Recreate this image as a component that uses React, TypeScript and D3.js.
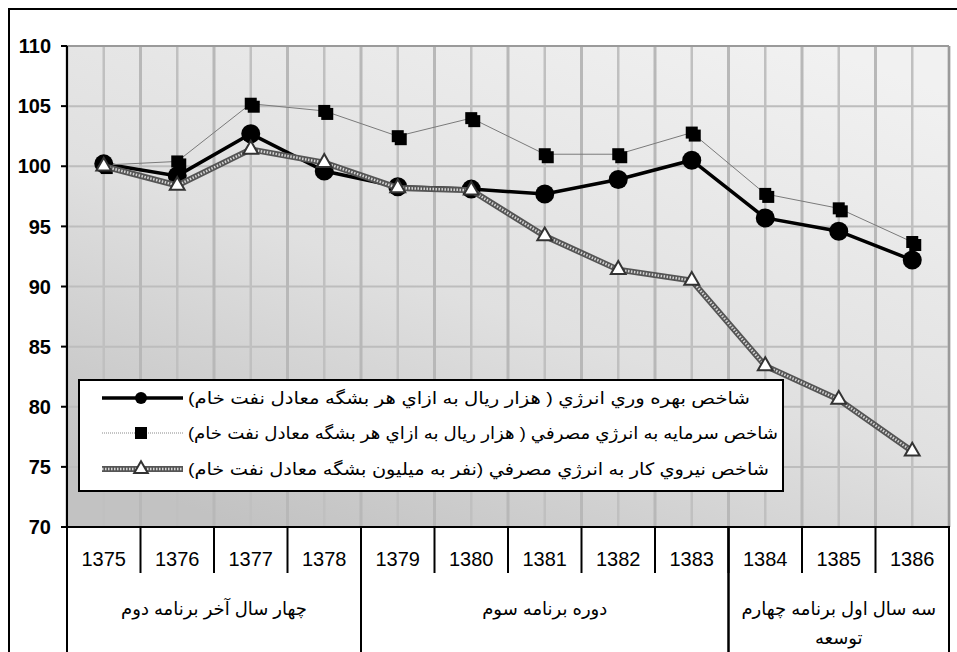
import * as d3 from 'd3'

const YEARS = ['1375', '1376', '1377', '1378', '1379', '1380', '1381', '1382', '1383', '1384', '1385', '1386']
const ENERGY_PRODUCTIVITY = [100.2, 99.2, 102.7, 99.6, 98.3, 98.1, 97.7, 98.9, 100.5, 95.7, 94.6, 92.2]
const CAPITAL_PER_ENERGY = [100.1, 100.4, 105.2, 104.6, 102.5, 104.0, 101.0, 101.0, 102.8, 97.7, 96.5, 93.7]
const LABOR_PER_ENERGY = [100.0, 98.4, 101.4, 100.3, 98.2, 98.0, 94.2, 91.4, 90.5, 83.4, 80.6, 76.3]
const Y_TICKS = [70, 75, 80, 85, 90, 95, 100, 105, 110]
const SERIES_NAMES = [
  'شاخص بهره وري انرژي ( هزار ريال به ازاي هر بشگه معادل نفت خام)',
  'شاخص سرمايه به انرژي مصرفي ( هزار ريال به ازاي هر بشگه معادل نفت خام)',
  'شاخص نيروي كار به انرژي مصرفي (نفر به ميليون بشگه معادل نفت خام)',
]
const PLAN_LABELS = [['چهار سال آخر برنامه دوم'], ['دوره برنامه سوم'], ['سه سال اول برنامه چهارم', 'توسعه']]
const PLAN_YEARS = [
  ['1375', '1378'],
  ['1379', '1383'],
  ['1384', '1386'],
]

const W = 957
const H = 652
const PLOT = { left: 67, right: 949, top: 46, bottom: 527 }
const FONT = '"Liberation Sans", Arial, "DejaVu Sans", sans-serif'
// legend box and the measured width of each entry's text in the original
const LEG = { x: 79, y: 380, w: 704, h: 111, rows: [398, 433, 469], textW: [562, 590, 581] }

const x = d3.scaleBand<string>().domain(YEARS).range([PLOT.left, PLOT.right])
const y = d3.scaleLinear().domain([70, 110]).range([PLOT.bottom, PLOT.top])
const bw = x.bandwidth()
const cx = (yr: string) => (x(yr) ?? 0) + bw / 2

const triangle = d3.symbol().type(d3.symbolTriangle).size(95)()
const triangleSmall = d3.symbol().type(d3.symbolTriangle).size(80)()

function Square({ px, py, s = 12 }: { px: number; py: number; s?: number }) {
  return (
    <g>
      <rect x={px - s / 2 + 3} y={py - s / 2 + 3} width={s} height={s} fill="#000" />
      <rect x={px - s / 2} y={py - s / 2} width={s} height={s} fill="#000" />
    </g>
  )
}

function HatchLine({ d }: { d: string }) {
  return (
    <g fill="none">
      <path d={d} stroke="#555" strokeWidth={6} />
      <path d={d} stroke="#d4d4d4" strokeWidth={2.5} strokeDasharray="1.5 1.5" />
    </g>
  )
}

export default function App() {
  const line = d3
    .line<number>()
    .x((_d, i) => cx(YEARS[i]))
    .y((d) => y(d))

  const boundaries = [...YEARS.map((yr) => x(yr) ?? 0), PLOT.right]

  return (
    <svg
      width={W}
      height={H}
      style={{ position: 'absolute', left: 0, top: 0, display: 'block', background: '#fff' }}
      fontFamily={FONT}
    >
      <defs>
        <linearGradient id="bg" x1="0.85" y1="0" x2="0.2" y2="1">
          <stop offset="0" stopColor="#f1f1f1" />
          <stop offset="0.55" stopColor="#e0e0e0" />
          <stop offset="1" stopColor="#c2c2c2" />
        </linearGradient>
      </defs>

      {/* outer frame */}
      <rect x={9} y={9} width={W + 20} height={H + 20} fill="none" stroke="#000" strokeWidth={2} />

      {/* plot background */}
      <rect
        x={PLOT.left}
        y={PLOT.top}
        width={PLOT.right - PLOT.left}
        height={PLOT.bottom - PLOT.top}
        fill="url(#bg)"
      />

      {/* grid */}
      {Y_TICKS.map((t) => (
        <line key={'h' + t} x1={PLOT.left} x2={PLOT.right} y1={y(t)} y2={y(t)} stroke="#bdbdbd" strokeWidth={2} />
      ))}
      {boundaries.map((bx, i) => (
        <line key={'vb' + i} x1={bx} x2={bx} y1={PLOT.top} y2={PLOT.bottom} stroke="#b8b8b8" strokeWidth={3} />
      ))}
      {YEARS.map((yr) => (
        <line key={'vc' + yr} x1={cx(yr)} x2={cx(yr)} y1={PLOT.top} y2={PLOT.bottom} stroke="#c0c0c0" strokeWidth={2.5} />
      ))}
      <line x1={PLOT.left} x2={PLOT.right} y1={PLOT.top} y2={PLOT.top} stroke="#9a9a9a" strokeWidth={2} />
      <line x1={PLOT.right} x2={PLOT.right} y1={PLOT.top} y2={PLOT.bottom} stroke="#9a9a9a" strokeWidth={2} />

      {/* y axis */}
      <line x1={PLOT.left} x2={PLOT.left} y1={PLOT.top} y2={PLOT.bottom} stroke="#000" strokeWidth={2} />
      {Y_TICKS.map((t) => (
        <g key={'yt' + t}>
          <line x1={PLOT.left - 6} x2={PLOT.left} y1={y(t)} y2={y(t)} stroke="#000" strokeWidth={2} />
          <text x={51} y={y(t)} dy="0.36em" textAnchor="end" fontSize={20} fontWeight="bold">
            {t}
          </text>
        </g>
      ))}

      {/* series: energy productivity */}
      <path d={line(ENERGY_PRODUCTIVITY) ?? ''} fill="none" stroke="#000" strokeWidth={3.5} />
      {ENERGY_PRODUCTIVITY.map((v, i) => (
        <circle key={'c' + i} cx={cx(YEARS[i])} cy={y(v)} r={9.5} fill="#000" />
      ))}

      {/* series: capital per energy */}
      <path d={line(CAPITAL_PER_ENERGY) ?? ''} fill="none" stroke="#7a7a7a" strokeWidth={1} />
      {CAPITAL_PER_ENERGY.map((v, i) => (
        <Square key={'s' + i} px={cx(YEARS[i])} py={y(v)} />
      ))}

      {/* series: labour per energy */}
      <HatchLine d={line(LABOR_PER_ENERGY) ?? ''} />
      {LABOR_PER_ENERGY.map((v, i) => (
        <path
          key={'t' + i}
          d={triangle ?? ''}
          transform={`translate(${cx(YEARS[i])},${y(v)})`}
          fill="#fff"
          stroke="#333"
          strokeWidth={2}
        />
      ))}

      {/* legend */}
      <rect x={LEG.x} y={LEG.y} width={LEG.w} height={LEG.h} fill="#fff" stroke="#000" strokeWidth={2} />
      <g>
        <line x1={102} x2={183} y1={LEG.rows[0]} y2={LEG.rows[0]} stroke="#000" strokeWidth={3.5} />
        <circle cx={141} cy={LEG.rows[0]} r={6} fill="#000" />
        <line x1={102} x2={183} y1={LEG.rows[1]} y2={LEG.rows[1]} stroke="#8a8a8a" strokeWidth={1} strokeDasharray="1 1" />
        <rect x={135} y={LEG.rows[1] - 6} width={12} height={12} fill="#000" />
        <HatchLine d={`M102,${LEG.rows[2]}H183`} />
        <path
          d={triangleSmall ?? ''}
          transform={`translate(141,${LEG.rows[2]})`}
          fill="#fff"
          stroke="#333"
          strokeWidth={2}
        />
        {SERIES_NAMES.map((name, i) => (
          <text
            key={'lt' + i}
            x={188}
            y={LEG.rows[i]}
            dy="0.35em"
            direction="rtl"
            textAnchor="end"
            fontSize={17}
            textLength={LEG.textW[i]}
            lengthAdjust="spacingAndGlyphs"
          >
            {name}
          </text>
        ))}
      </g>

      {/* category table */}
      <line x1={PLOT.left - 1} x2={PLOT.right + 1} y1={PLOT.bottom} y2={PLOT.bottom} stroke="#000" strokeWidth={2} />
      {boundaries.map((bx, i) => (
        <line key={'tb' + i} x1={bx} x2={bx} y1={PLOT.bottom} y2={573} stroke="#000" strokeWidth={2} />
      ))}
      {YEARS.map((yr) => (
        <text key={'xl' + yr} x={cx(yr)} y={559} dy="0.36em" textAnchor="middle" fontSize={20}>
          {yr}
        </text>
      ))}
      {PLAN_YEARS.map(([a, b], gi) => {
        const gx0 = x(a) ?? 0
        const gx1 = (x(b) ?? 0) + bw
        const mid = (gx0 + gx1) / 2
        return (
          <g key={'pg' + gi}>
            <line x1={gx0} x2={gx0} y1={PLOT.bottom} y2={H} stroke="#000" strokeWidth={2} />
            <line x1={gx1} x2={gx1} y1={PLOT.bottom} y2={H} stroke="#000" strokeWidth={2} />
            {PLAN_LABELS[gi].map((lbl, li) => (
              <text
                key={li}
                x={mid}
                y={609 + li * 29}
                dy="0.35em"
                direction="rtl"
                textAnchor="middle"
                fontSize={18}
              >
                {lbl}
              </text>
            ))}
          </g>
        )
      })}
    </svg>
  )
}
